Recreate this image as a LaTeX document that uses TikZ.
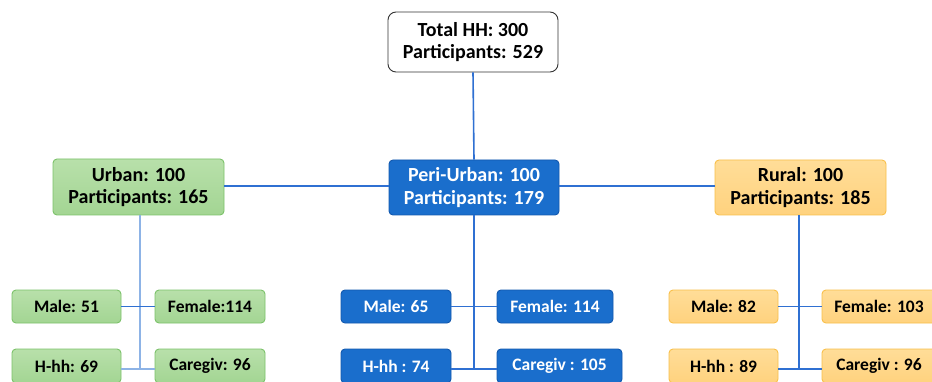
\documentclass[tikz,border=0pt]{standalone}
\usepackage{fontspec}
\setmainfont{Carlito}
\definecolor{gfill}{HTML}{A3D593}
\definecolor{gtop}{HTML}{B8E0AA}
\definecolor{gline}{HTML}{7CC26A}
\definecolor{bfill}{HTML}{1A6ECC}
\definecolor{bline}{HTML}{1258AE}
\definecolor{ofill}{HTML}{FFD27E}
\definecolor{otop}{HTML}{FFDD98}
\definecolor{oline}{HTML}{F9C04A}
\definecolor{conn}{HTML}{2F70D2}
\definecolor{connlight}{HTML}{8DB3E6}
\tikzset{
  base/.style={rounded corners=4pt, line width=0.9pt, align=center, inner sep=0pt, font=\bfseries},
  bigfont/.style={font=\bfseries\fontsize{20}{22.5}\selectfont},
  smallfont/.style={font=\bfseries\fontsize{17.5}{20}\selectfont},
  topbox/.style={base, rounded corners=8pt, draw=black!80, fill=white, minimum width=170pt, minimum height=60pt, bigfont},
  gbig/.style={base, draw=gline, top color=gtop, bottom color=gfill, minimum width=171pt, minimum height=56pt, bigfont},
  bbig/.style={base, draw=bline, fill=bfill, text=white, minimum width=170pt, minimum height=55pt, bigfont},
  obig/.style={base, draw=oline, top color=otop, bottom color=ofill, minimum width=171pt, minimum height=55pt, bigfont},
  gsmall/.style={base, draw=gline, top color=gtop, bottom color=gfill, minimum height=33pt, smallfont},
  bsmall/.style={base, draw=bline, fill=bfill, text=white, minimum height=33pt, smallfont},
  osmall/.style={base, draw=oline, top color=otop, bottom color=ofill, minimum height=33pt, smallfont},
  cline/.style={draw=conn, line width=1.6pt},
  lline/.style={draw=connlight, line width=1.6pt}
}
\begin{document}
\begin{tikzpicture}[x=1pt,y=-1pt]
\useasboundingbox (0,0) rectangle (932,382);
\clip (0,0) rectangle (932,382);
\fill[white] (0,0) rectangle (932,382);
% top
\node[topbox] (top) at (473,42) {Total HH: 300\\Participants: 529};
% level 2
\node[gbig] (urban) at (138.5,187) {Urban: 100\\Participants: 165};
\node[bbig] (peri) at (474,187.5) {Peri-Urban: 100\\Participants: 179};
\node[obig] (rural) at (800.5,187.5) {Rural: 100\\Participants: 185};
% urban children
\node[gsmall, minimum width=109pt] (um) at (66.5,306.5) {Male: 51};
\node[gsmall, minimum width=110pt] (uf) at (210,306.5) {Female:114};
\node[gsmall, minimum width=109pt, minimum height=34pt] (uh) at (66.5,366) {H-hh: 69};
\node[gsmall, minimum width=110pt, minimum height=34pt] (uc) at (210,366) {Caregiv: 96};
% peri children
\node[bsmall, minimum width=110pt] (pm) at (396,306.5) {Male: 65};
\node[bsmall, minimum width=116pt] (pf) at (555,306.5) {Female: 114};
\node[bsmall, minimum width=110pt, minimum height=34pt] (ph) at (396,366) {H-hh : 74};
\node[bsmall, minimum width=125pt, minimum height=34pt] (pc) at (559.5,366) {Caregiv : 105};
% rural children
\node[osmall, minimum width=109pt] (rm) at (723.5,306.5) {Male: 82};
\node[osmall, minimum width=114pt] (rf) at (879,306.5) {Female: 103};
\node[osmall, minimum width=109pt, minimum height=34pt] (rh) at (723.5,366) {H-hh : 89};
\node[osmall, minimum width=114pt, minimum height=34pt] (rc) at (879,366) {Caregiv : 96};
% connectors
\draw[cline] (top.south) -- (peri.north);
\draw[cline] (urban.east |- 0,186) -- (peri.west |- 0,186);
\draw[cline] (peri.east |- 0,186) -- (rural.west |- 0,186);
\coordinate (ubot) at (140,369);
\coordinate (pbot) at (474,369);
\coordinate (rbot) at (799,369);
\draw[lline] (urban.south -| ubot) -- (ubot);
\draw[cline] (peri.south) -- (pbot);
\draw[cline] (rural.south -| rbot) -- (rbot);
\draw[cline] (um.east) -- (uf.west);
\draw[lline] (uh.east |- ubot) -- (uc.west |- ubot);
\draw[cline] (pm.east) -- (pf.west);
\draw[cline] (ph.east |- pbot) -- (pc.west |- pbot);
\draw[cline] (rm.east) -- (rf.west);
\draw[cline] (rh.east |- rbot) -- (rc.west |- rbot);
\end{tikzpicture}
\end{document}
